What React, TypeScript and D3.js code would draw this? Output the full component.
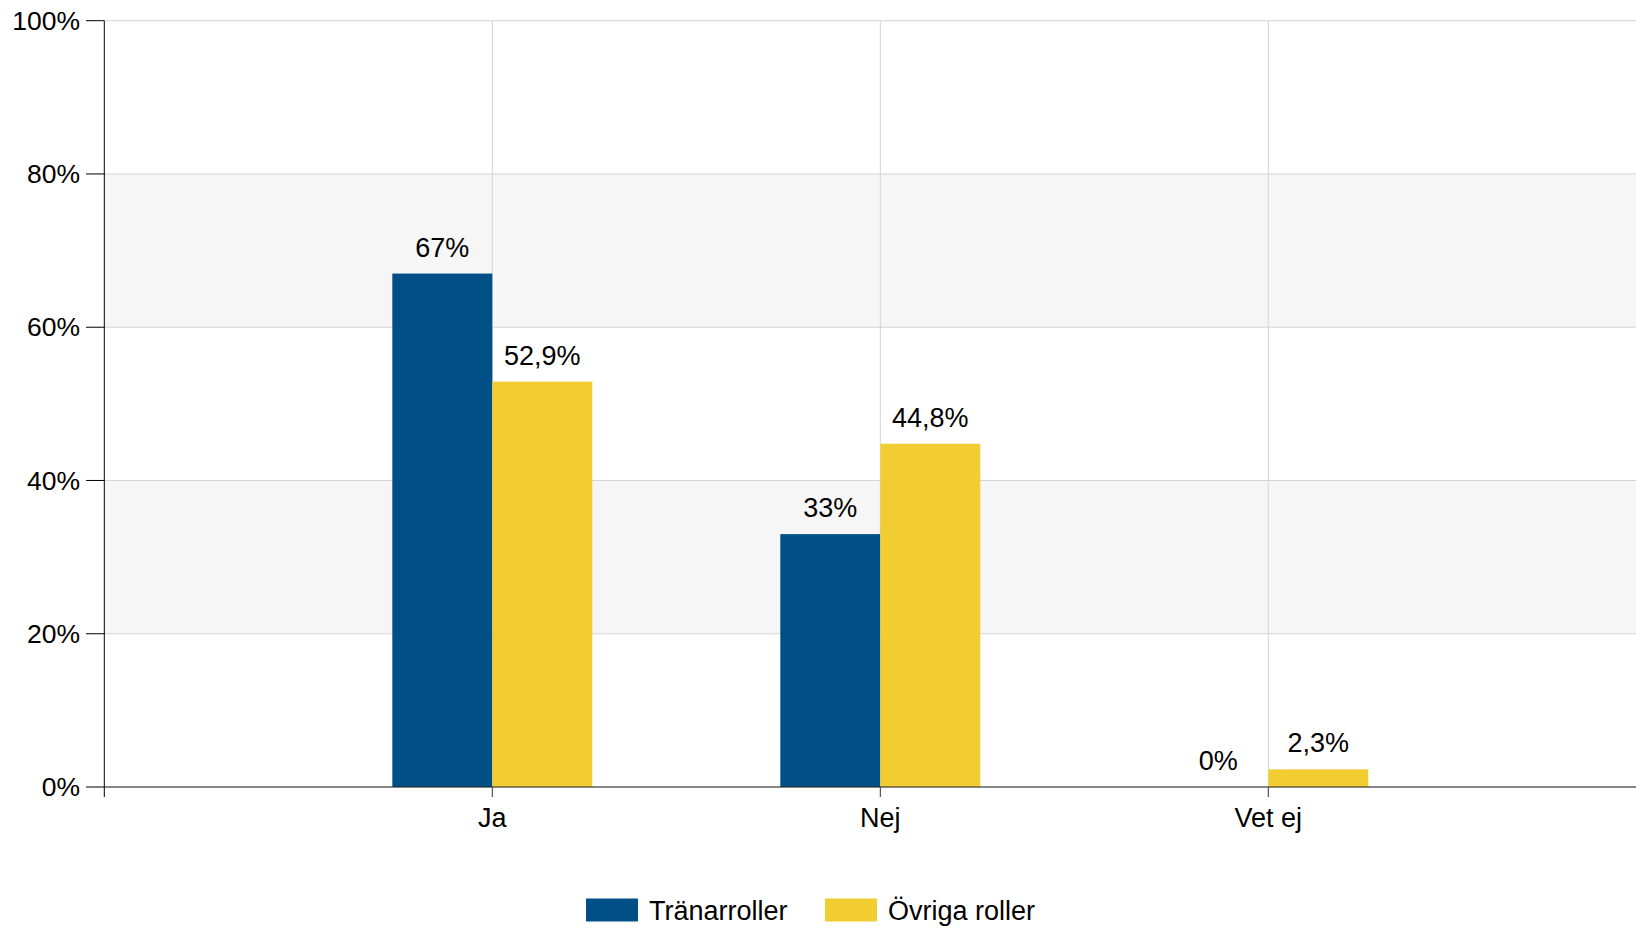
import React from "react";
import * as d3 from "d3";

const categories = ["Ja", "Nej", "Vet ej"];
const seriesNames = ["Tränarroller", "Övriga roller"];
const tranarroller = [67, 33, 0];
const ovrigaRoller = [52.9, 44.8, 2.3];
const valueLabelsTranar = ["67%", "33%", "0%"];
const valueLabelsOvriga = ["52,9%", "44,8%", "2,3%"];
const yTicks = [0, 20, 40, 60, 80, 100];
const colors = ["#005087", "#f2cd31"];

const W = 1636;
const H = 928;
const FONT = "'Liberation Sans', Arial, sans-serif";

export default function App() {
  const x = d3.scaleLinear().domain([0, 4]).range([104.3, 104.3 + 4 * 388]);
  const y = d3.scaleLinear().domain([0, 100]).range([787, 20.7]);
  const left = x(0);
  const right = W;
  const barW = x(0.2577) - x(0);
  const series = [tranarroller, ovrigaRoller];
  const labels = [valueLabelsTranar, valueLabelsOvriga];
  const bands = [
    [20, 40],
    [60, 80],
  ];

  return (
    <svg
      width={W}
      height={H}
      style={{ position: "absolute", left: 0, top: 0, background: "#fff" }}
      fontFamily={FONT}
    >
      {bands.map(([a, b]) => (
        <rect key={a} x={left} y={y(b)} width={right - left} height={y(a) - y(b)} fill="#f6f6f6" />
      ))}
      {yTicks.map((t) => (
        <line key={"g" + t} x1={left} x2={right} y1={y(t)} y2={y(t)} stroke="#d4d4d4" strokeWidth={1} />
      ))}
      {categories.map((c, i) => (
        <line key={"v" + c} x1={x(i + 1)} x2={x(i + 1)} y1={y(100)} y2={y(0)} stroke="#d4d4d4" strokeWidth={1} />
      ))}
      {series.map((s, si) =>
        s.map((v, i) => {
          const cx = x(i + 1);
          const bx = si === 0 ? cx - barW : cx;
          return (
            <g key={si + "-" + i}>
              {v > 0 && (
                <rect x={bx} y={y(v)} width={barW} height={y(0) - y(v)} fill={colors[si]} />
              )}
              <text
                x={bx + barW / 2}
                y={y(v) - 17}
                textAnchor="middle"
                fontSize={27}
                fill="#000"
              >
                {labels[si][i]}
              </text>
            </g>
          );
        })
      )}
      {/* y axis */}
      <line x1={left} x2={left} y1={y(100)} y2={797} stroke="#000" strokeWidth={1} />
      {yTicks.map((t) => (
        <g key={"t" + t}>
          <line x1={86} x2={left} y1={y(t)} y2={y(t)} stroke="#000" strokeWidth={1} />
          <text x={80} y={y(t)} dy="0.35em" textAnchor="end" fontSize={26.5} fill="#000">
            {t + "%"}
          </text>
        </g>
      ))}
      {/* x axis */}
      <line x1={left} x2={right} y1={y(0)} y2={y(0)} stroke="#222" strokeWidth={1.2} />
      {categories.map((c, i) => (
        <g key={"x" + c}>
          <line x1={x(i + 1)} x2={x(i + 1)} y1={y(0)} y2={797} stroke="#333" strokeWidth={1} />
          <text x={x(i + 1)} y={826.5} textAnchor="middle" fontSize={27} fill="#000">
            {c}
          </text>
        </g>
      ))}
      {/* legend */}
      {seriesNames.map((n, i) => {
        const lx = i === 0 ? 586 : 825;
        return (
          <g key={"l" + n}>
            <rect x={lx} y={898.5} width={52} height={23} fill={colors[i]} />
            <text x={lx + 63} y={920} fontSize={27} fill="#000">
              {n}
            </text>
          </g>
        );
      })}
    </svg>
  );
}
